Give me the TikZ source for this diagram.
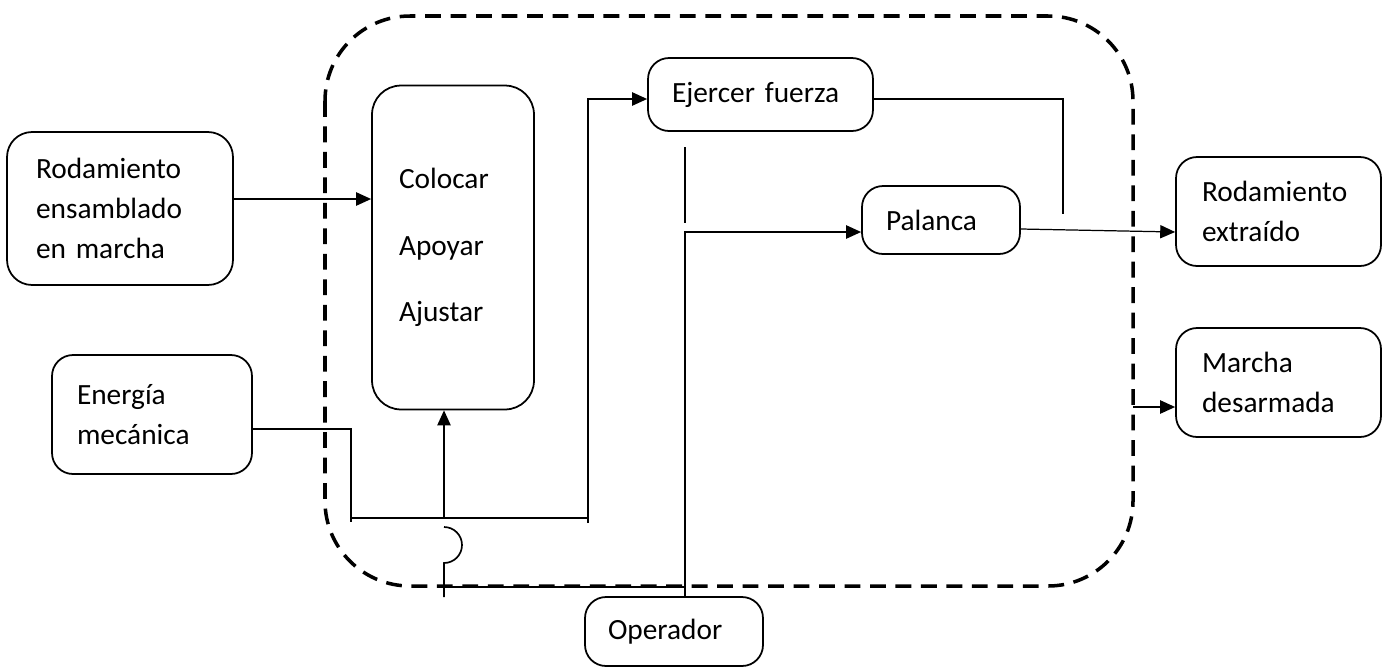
\documentclass[tikz,border=0pt]{standalone}
\usepackage{fontspec}
\setmainfont{Carlito}[WordSpace=0.8]
\usetikzlibrary{arrows.meta,calc}
\tikzset{
  blk/.style={draw, line width=1pt, rounded corners=0.42cm, align=left, inner ysep=0pt,
    font=\fontsize{16.7}{22.7}\selectfont},
  conn/.style={line width=0.95pt},
  thin/.style={line width=0.7pt},
  arr/.style={-{Triangle[length=8.5pt,width=7.5pt]}},
  boundary/.style={line width=2pt, dash pattern=on 9pt off 5.5pt, rounded corners=1.7cm},
}
\begin{document}
\begin{tikzpicture}[x=0.02cm,y=-0.02cm]
\useasboundingbox (0,0) rectangle (1382,667);
\fill[white] (0,0) rectangle (1382,667);

% system boundary
\draw[boundary] (325,16) rectangle (1133,586);

% nodes
\node[blk, rounded corners=0.5cm, text width=3.36cm, inner xsep=0.58cm, minimum height=3.06cm] (A) at (120,208.5) {Rodamiento\\ensamblado\\en marcha};
\node[blk, rounded corners=0.58cm, text width=2.16cm, inner xsep=0.54cm, minimum height=6.48cm,
      font=\fontsize{16.7}{38}\selectfont] (B) at (453,247.5) {Colocar\\Apoyar\\Ajustar};
\node[blk, text width=3.54cm, inner xsep=0.48cm, minimum height=1.46cm] (C) at (760.5,94.5) {Ejercer fuerza};
\node[blk, text width=2.2cm, inner xsep=0.48cm, minimum height=1.36cm] (P) at (941,220) {Palanca};
\node[blk, text width=3.06cm, inner xsep=0.52cm, minimum height=2.18cm] (RE) at (1278.5,211.5) {Rodamiento\\extraído};
\node[blk, text width=3.06cm, inner xsep=0.52cm, minimum height=2.18cm] (M) at (1278.5,382.5) {Marcha\\desarmada};
\node[blk, text width=3.0cm, inner xsep=0.5cm, minimum height=2.38cm] (E) at (152,414.5) {Energía\\mecánica};
\node[blk, text width=2.64cm, inner xsep=0.46cm, minimum height=1.38cm] (O) at (674,631.5) {Operador};

% connectors
\draw[conn,arr] (A.east |- 0,199) -- (B.west |- 0,199);
\draw[thin] (E.east |- 0,429) -- (351,429) -- (351,522);
\draw[conn] (351,518) -- (588,518);
\draw[conn,arr] (588,523) -- (588,99) -- (C.west |- 0,99);
\draw[conn,arr] (444,518) -- (B.south -| 444,518);
\draw[conn] (444,527) arc[start angle=-90, end angle=90, radius=18] -- (444,597);
\draw[thin] (444,587) -- (685,587);
\draw[conn,arr] (O.north -| 685,0) -- (685,232) -- (P.west |- 0,232);
\draw[conn] (685,147) -- (685,223);
\draw[thin] (C.east |- 0,99) -- (1063,99) -- (1063,214);
\draw[thin,arr] ($(P.east)+(0,9)$) -- (RE.west |- 0,232);
\draw[conn,arr] (1133,407) -- (M.west |- 0,407);
\end{tikzpicture}
\end{document}
